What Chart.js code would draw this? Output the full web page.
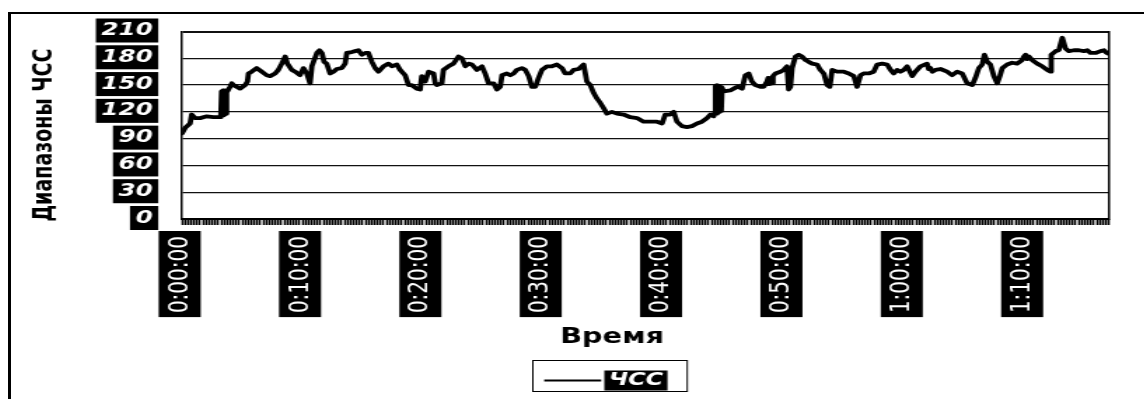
<!DOCTYPE html>
<html>
<head>
<meta charset="utf-8">
<script src="https://cdn.jsdelivr.net/npm/chart.js@4.4.1/dist/chart.umd.min.js"></script>
<style>
  html, body { margin: 0; padding: 0; background: #fff; overflow: hidden; width: 1144px; height: 399px; }
  #frame { position: absolute; left: 8px; top: 12px; border: 2px solid #000; border-left-width: 3px; background: #fff; }
</style>
</head>
<body>
<div id="frame"><canvas id="hr" width="858" height="391" style="width:1202px;height:391px;display:block"></canvas></div>
<script>
// Heart-rate session: elapsed time in seconds and heart rate in beats per minute
const timeSec = [
  0, 15, 40, 48, 65, 90, 123, 156, 190, 193, 197, 200, 203, 206, 209, 212, 215, 219, 222, 226,
  239, 248, 256, 273, 289, 314, 326, 331, 347, 372, 397, 422, 439, 464, 480, 497, 514, 525, 547, 564,
  588, 605, 622, 638, 647, 672, 685, 697, 708, 721, 738, 755, 771, 796, 813, 821, 846, 863, 879, 896,
  913, 929, 946, 963, 979, 1004, 1029, 1046, 1071, 1087, 1112, 1129, 1145, 1170, 1187, 1195, 1212, 1229, 1254, 1262,
  1270, 1295, 1303, 1328, 1353, 1378, 1395, 1412, 1428, 1445, 1470, 1495, 1511, 1528, 1553, 1570, 1586, 1595, 1619, 1636,
  1653, 1669, 1694, 1711, 1728, 1744, 1761, 1777, 1794, 1819, 1844, 1869, 1894, 1910, 1935, 1952, 1977, 2002, 2018, 2035,
  2052, 2068, 2085, 2102, 2118, 2143, 2168, 2201, 2235, 2268, 2301, 2334, 2368, 2393, 2409, 2434, 2451, 2467, 2492, 2517,
  2542, 2567, 2592, 2617, 2634, 2650, 2655, 2659, 2663, 2667, 2671, 2675, 2679, 2684, 2688, 2692, 2700, 2733, 2750, 2767,
  2775, 2792, 2808, 2825, 2841, 2858, 2883, 2900, 2916, 2922, 2927, 2933, 2940, 2946, 2958, 2983, 2999, 3016, 3024, 3033,
  3041, 3058, 3074, 3091, 3108, 3124, 3141, 3166, 3182, 3199, 3216, 3229, 3241, 3265, 3299, 3324, 3349, 3365, 3382, 3398,
  3423, 3448, 3465, 3490, 3515, 3532, 3548, 3565, 3581, 3598, 3615, 3640, 3656, 3681, 3714, 3722, 3731, 3740, 3756, 3781,
  3814, 3839, 3864, 3889, 3914, 3939, 3955, 3972, 3989, 4000, 4014, 4030, 4047, 4064, 4077, 4089, 4113, 4138, 4163, 4188,
  4197, 4205, 4213, 4222, 4238, 4263, 4288, 4313, 4330, 4333, 4355, 4371, 4388, 4404, 4421, 4446, 4471, 4496, 4513, 4529,
  4554, 4579, 4596, 4609, 4620
];
const hrBpm = [
  96, 102, 107, 117, 113, 113, 115, 114, 114, 115, 143, 116, 144, 116, 143, 117, 144, 118, 143, 143,
  148, 152, 150, 148, 146, 150, 154, 163, 165, 169, 165, 161, 160, 163, 167, 174, 182, 174, 167, 165,
  161, 169, 163, 152, 171, 186, 189, 186, 176, 174, 163, 165, 168, 169, 174, 186, 187, 188, 189, 184,
  186, 186, 176, 169, 165, 171, 174, 171, 173, 167, 161, 150, 150, 146, 145, 160, 154, 165, 163, 152,
  150, 152, 167, 171, 174, 182, 180, 171, 174, 173, 167, 171, 163, 152, 152, 145, 148, 161, 163, 161,
  163, 167, 169, 167, 160, 148, 148, 158, 167, 171, 171, 173, 169, 163, 163, 167, 168, 173, 154, 150,
  141, 135, 130, 124, 118, 120, 118, 117, 114, 113, 109, 109, 109, 107, 117, 117, 120, 109, 104, 103,
  104, 107, 109, 113, 117, 115, 119, 149, 118, 150, 119, 149, 120, 148, 121, 147, 143, 144, 146, 148,
  148, 146, 161, 163, 154, 150, 148, 148, 154, 158, 151, 158, 152, 160, 163, 165, 167, 171, 145, 148,
  169, 182, 184, 182, 178, 176, 174, 173, 167, 163, 150, 148, 167, 165, 165, 163, 160, 148, 161, 163,
  163, 165, 173, 174, 173, 167, 163, 167, 165, 167, 171, 160, 165, 171, 174, 168, 169, 165, 167, 168,
  165, 161, 165, 163, 152, 150, 158, 169, 173, 184, 176, 173, 160, 152, 160, 169, 173, 175, 174, 178,
  182, 184, 179, 182, 178, 174, 171, 167, 165, 184, 188, 189, 203, 191, 188, 189, 189, 188, 189, 186,
  186, 188, 189, 186, 185
];

const seriesName = 'ЧСС';
const yAxisTitle = 'Диапазоны ЧСС';
const xAxisTitle = 'Время';
// labelled time marks (seconds) and the end of the session
const xTickSeconds = [0, 600, 1200, 1800, 2400, 3000, 3600, 4200];
const xEndSec = 4620;
// heart-rate range marks
const yTickValues = [0, 30, 60, 90, 120, 150, 180, 210];

const FONT = 'DejaVu Sans';
const yTop = yTickValues[yTickValues.length - 1];

// h:mm:ss label for an elapsed number of seconds
function hms(sec) {
  const h = Math.floor(sec / 3600);
  const m = Math.floor((sec % 3600) / 60);
  const s = Math.round(sec % 60);
  return h + ':' + String(m).padStart(2, '0') + ':' + String(s).padStart(2, '0');
}

// Framed legend with the series name shown white on black
const framedLegend = {
  id: 'framedLegend',
  afterDraw(chart) {
    const ctx = chart.ctx;
    const ds = chart.data.datasets[0];
    ctx.save();
    ctx.font = 'italic bold 17px "' + FONT + '"';
    const tw = ctx.measureText(ds.label).width;
    const padL = 8.6, lineLen = 40.7, gap = 2.2, boxPad = 3.2, padR = 13.6;
    const total = padL + lineLen + gap + tw + 2 * boxPad + padR;
    const cx = chart.width / 2 - 2;
    const left = Math.round(cx - total / 2);
    const top = 346, h = 31;
    const midY = 366.5;
    ctx.lineWidth = 1;
    ctx.strokeStyle = '#000';
    ctx.strokeRect(left + 0.5, top + 0.5, total, h);
    ctx.lineWidth = 2;
    ctx.beginPath();
    ctx.moveTo(left + padL, midY);
    ctx.lineTo(left + padL + lineLen, midY);
    ctx.stroke();
    const bx = left + padL + lineLen + gap;
    ctx.fillStyle = '#000';
    ctx.fillRect(bx, midY - 10, tw + 2 * boxPad, 20);
    ctx.fillStyle = '#fff';
    ctx.textBaseline = 'middle';
    ctx.textAlign = 'left';
    ctx.fillText(ds.label, bx + boxPad, midY + 0.5);
    ctx.restore();
  }
};

const points = timeSec.map((t, i) => ({ x: t, y: hrBpm[i] }));

new Chart(document.getElementById('hr'), {
  type: 'line',
  data: {
    datasets: [{
      label: seriesName,
      data: points,
      borderColor: '#000',
      backgroundColor: '#000',
      borderWidth: 3.8,
      borderJoinStyle: 'round',
      borderCapStyle: 'round',
      pointRadius: 0,
      tension: 0,
      fill: false,
      xAxisID: 'x',
      yAxisID: 'y'
    }]
  },
  options: {
    responsive: false,
    animation: false,
    events: [],
    layout: { padding: { top: 17.5, bottom: 51, left: 0, right: 0 } },
    plugins: {
      legend: { display: false },
      tooltip: { enabled: false },
      title: {
        display: true,
        text: xAxisTitle,
        position: 'bottom',
        color: '#000',
        font: { family: FONT, size: 20.5, weight: 'bold', lineHeight: 1.2 },
        padding: { top: 0, bottom: 4 }
      }
    },
    scales: {
      x: {
        type: 'linear',
        position: 'bottom',
        min: 0,
        max: xEndSec,
        weight: 0,
        afterBuildTicks(scale) {
          scale.ticks = xTickSeconds.map((v) => ({ value: v }));
        },
        afterFit(scale) {
          scale.height = 106.4;
          scale.paddingLeft = 0;
          scale.paddingRight = 74.4;
        },
        grid: { display: false, drawTicks: false },
        border: { display: true, color: '#000', width: 2 },
        ticks: {
          autoSkip: false,
          minRotation: 90,
          maxRotation: 90,
          padding: 17,
          labelOffset: -13.7,
          color: '#fff',
          font: { family: FONT, size: 20, lineHeight: 1.2 },
          showLabelBackdrop: true,
          backdropColor: '#000',
          backdropPadding: { top: 3, bottom: 3, left: 4, right: 5 },
          callback: (v) => hms(v)
        }
      },
      xHatch: {
        type: 'linear',
        position: 'bottom',
        min: 0,
        max: xEndSec,
        weight: -1,
        afterFit(scale) {
          scale.height = 0;
          scale.paddingLeft = 0;
          scale.paddingRight = 0;
        },
        grid: { display: true, drawOnChartArea: false, drawTicks: true, tickLength: 6, tickWidth: 1.6, tickColor: '#000' },
        border: { display: false },
        ticks: { display: false, stepSize: 15 }
      },
      y: {
        type: 'linear',
        position: 'left',
        min: 0,
        max: yTop,
        afterBuildTicks(scale) {
          scale.ticks = yTickValues.map((v) => ({ value: v }));
        },
        afterFit(scale) {
          scale.width = 122.1;
          scale.paddingTop = 0;
          scale.paddingBottom = 0;
        },
        grid: {
          color: '#111',
          lineWidth: (ctx) => (ctx.tick && ctx.tick.value === yTop ? 2 : 1.2),
          drawTicks: false
        },
        border: { display: true, color: '#000', width: 1.5 },
        title: {
          display: true,
          text: yAxisTitle + '\u00a0\u00a0\u00a0',
          color: '#000',
          font: { family: FONT, size: 19, weight: 'bold', lineHeight: 1.2 },
          padding: { top: 12.9, bottom: 0 }
        },
        ticks: {
          padding: 21,
          labelOffset: -1,
          color: '#fff',
          font: { family: FONT, size: 17.5, weight: 'bold', style: 'italic', lineHeight: 1.2 },
          showLabelBackdrop: true,
          backdropColor: '#000',
          backdropPadding: { top: 1.5, bottom: 1.5, left: 4, right: 4 }
        }
      },
      yEdge: {
        type: 'linear',
        position: 'right',
        min: 0,
        max: yTop,
        afterFit(scale) { scale.width = 0; },
        grid: { display: false, drawTicks: false },
        border: { display: true, color: '#000', width: 1.5 },
        ticks: { display: false }
      }
    }
  },
  plugins: [framedLegend]
});
</script>
</body>
</html>
